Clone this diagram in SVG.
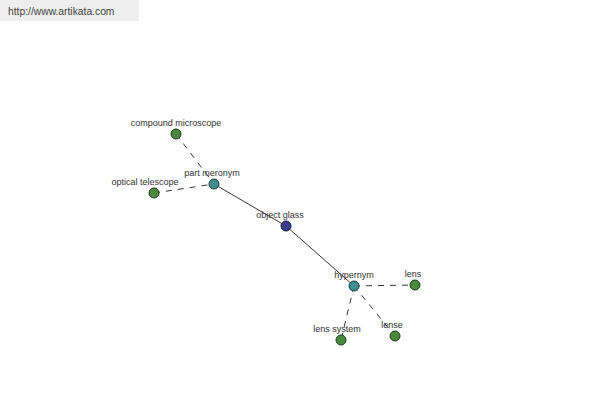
<svg xmlns="http://www.w3.org/2000/svg" width="600" height="400" viewBox="0 0 600 400">
<style>
text{font-family:"Liberation Sans",Arial,sans-serif;font-size:9px;fill:#333;text-anchor:middle}
.leaf{fill:#4a8a3e;stroke:#1f3a1a;stroke-width:1}
.rel{fill:#3f8f90;stroke:#1a3a3a;stroke-width:1}
.root{fill:#3b3f8a;stroke:#1a1a3a;stroke-width:1}
.solid{stroke:#000;stroke-width:0.8;fill:none}
.dash{stroke:#000;stroke-width:0.8;fill:none;stroke-dasharray:6,6}
</style>
<rect width="600" height="400" fill="#fff"/>
<g id="header">
<rect x="0" y="0" width="139" height="21" fill="#eeeeee"/>
<text x="8" y="15" style="text-anchor:start;font-size:10.3px;fill:#444">http://www.artikata.com</text>
</g>
<g id="connectors">
<line class="solid" x1="214" y1="184" x2="286" y2="226"/>
<line class="solid" x1="286" y1="226" x2="354" y2="286"/>
<line class="dash" x1="176" y1="134" x2="214" y2="184"/>
<line class="dash" x1="154" y1="193" x2="214" y2="184"/>
<line class="dash" x1="354" y1="286" x2="415" y2="285"/>
<line class="dash" x1="354" y1="286" x2="341" y2="340"/>
<line class="dash" x1="354" y1="286" x2="395" y2="336"/>
</g>
<g id="compound-microscope"><circle class="leaf" cx="176" cy="134" r="5"/><text x="176" y="126">compound microscope</text></g>
<g id="optical-telescope"><circle class="leaf" cx="154" cy="193" r="5"/><text x="145" y="185">optical telescope</text></g>
<g id="part-meronym"><circle class="rel" cx="214" cy="184" r="5"/><text x="212" y="176">part meronym</text></g>
<g id="object-glass"><circle class="root" cx="286" cy="226" r="5"/><text x="280" y="218">object glass</text></g>
<g id="hypernym"><circle class="rel" cx="354" cy="286" r="5"/><text x="354" y="278">hypernym</text></g>
<g id="lens"><circle class="leaf" cx="415" cy="285" r="5"/><text x="413" y="277">lens</text></g>
<g id="lens-system"><circle class="leaf" cx="341" cy="340" r="5"/><text x="337" y="332">lens system</text></g>
<g id="lense"><circle class="leaf" cx="395" cy="336" r="5"/><text x="392" y="328">lense</text></g>
</svg>
